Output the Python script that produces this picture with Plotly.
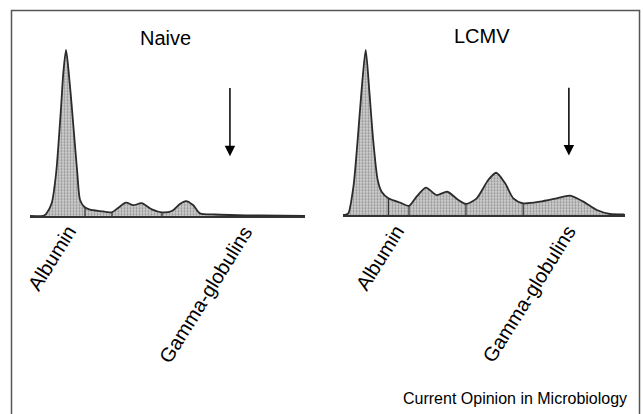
import plotly.graph_objects as go

# ---- Data (migration position 0-100 across each strip, relative density 0-100) ----
naive_x = [0, 5.1, 6.1, 7.9, 9.5, 11.3, 12.1, 13.1, 14.1, 15.2, 17.2, 18.2, 19.8, 21.8, 25.5,
           29.7, 32.0, 34.9, 37.6, 40.6, 44.3, 47.9, 51.6, 54.5, 56.7, 59.3, 61.8, 67.3, 72.7, 83.6, 100]
naive_y = [0, 0.3, 1.8, 7.8, 25.9, 65.7, 86.1, 100, 86.1, 65.7, 25.9, 9.6, 5.4, 3.9, 3.0,
           2.2, 4.8, 8.0, 6.5, 7.7, 4.0, 2.2, 3.0, 7.2, 9.0, 6.6, 1.6, 0.9, 0.6, 0.3, 0]

lcmv_x = [0, 1.1, 1.9, 3.7, 5.2, 6.6, 8.05, 9.3, 10.7, 12.3, 13.7, 16.1, 20.5, 23.4, 26.1,
          29.4, 33.2, 37.0, 40.9, 43.6, 47.4, 51.5, 54.3, 57.5, 60.4, 63.9, 69.9, 75.8, 80.5,
          85.2, 90.0, 94.7, 99.4, 100]
lcmv_y = [0, 0.3, 1.0, 17.2, 45.5, 75.8, 100, 75.8, 45.5, 21.2, 14.1, 10.1, 7.3, 5.5, 11.1,
          16.6, 12.1, 14.1, 9.1, 6.7, 10.1, 21.2, 25.6, 19.2, 10.1, 7.1, 8.1, 10.1, 11.7,
          8.1, 3.0, 0.6, 0.3, 0]

naive_div_x = [20.0, 29.8, 48.0]
naive_div_top = [5.2, 2.2, 2.2]
lcmv_div_x = [16.1, 23.4, 43.6, 63.9]
lcmv_div_top = [10.1, 5.5, 6.7, 7.1]

panel_titles = ["Naive", "LCMV"]
naive_labels = {"Albumin": 19.3, "Gamma-globulins": 83.5}
lcmv_labels = {"Albumin": 24.1, "Gamma-globulins": 85.0}
arrow_pos = {"x": 72.7, "x2": 80.1}
arrow_from, arrow_to = 78, 36
footer = "Current Opinion in Microbiology"

W, H = 643, 414
FONT = "Liberation Sans, Arial, Helvetica, sans-serif"

line_col = "#2b2b2b"
pattern = dict(shape=".", size=3, solidity=0.45, fgcolor="#5a5a5a", bgcolor="#d4d4d4")

fig = go.Figure()

def add_panel(xs, ys, dx, dtop, xa, ya):
    fig.add_trace(go.Scatter(x=xs, y=ys, mode="lines", line=dict(color=line_col, width=1.8, shape="spline", smoothing=0.7),
                             fill="tozeroy", fillcolor="#cfcfcf", fillpattern=pattern,
                             xaxis=xa, yaxis=ya, hoverinfo="skip", showlegend=False))
    vx, vy = [], []
    for x, t in zip(dx, dtop):
        vx += [x, x, None]
        vy += [0, t, None]
    fig.add_trace(go.Scatter(x=vx, y=vy, mode="lines", line=dict(color="#333", width=1.2),
                             xaxis=xa, yaxis=ya, hoverinfo="skip", showlegend=False))

add_panel(naive_x, naive_y, naive_div_x, naive_div_top, "x", "y")
add_panel(lcmv_x, lcmv_y, lcmv_div_x, lcmv_div_top, "x2", "y2")

def py(p):
    return 1 - p / H

ax_common = dict(range=[0, 100], showgrid=False, zeroline=False, showticklabels=False, ticks="",
                 showline=True, linecolor="#333", linewidth=2, fixedrange=True)
fig.update_layout(
    xaxis=dict(domain=[30 / W, 305 / W], anchor="y", **ax_common),
    xaxis2=dict(domain=[343 / W, 625 / W], anchor="y2", **ax_common),
    yaxis=dict(domain=[py(216), py(216 - 105 * 1.66)], range=[0, 105], visible=False, anchor="x", fixedrange=True),
    yaxis2=dict(domain=[py(215), py(215 - 105 * 1.65)], range=[0, 105], visible=False, anchor="x2", fixedrange=True),
)

ann = []
for title, xr, yy in zip(panel_titles, ["x", "x2"], [38, 36]):
    ann.append(dict(text=title, xref=xr, x=49.3, yref="paper", y=py(yy), xanchor="center", yanchor="middle",
                    showarrow=False, font=dict(family=FONT, size=20, color="black")))
for labels, xr in [(naive_labels, "x"), (lcmv_labels, "x2")]:
    for txt, xv in labels.items():
        ann.append(dict(text=txt, xref=xr, x=xv, yref="paper", y=py(219), xanchor="right", yanchor="top",
                        textangle=-58, showarrow=False, font=dict(family=FONT, size=20, color="black")))
for xr, xv in arrow_pos.items():
    yr = "y" if xr == "x" else "y2"
    ann.append(dict(text="", x=xv, y=arrow_to, xref=xr, yref=yr, ax=xv, ay=arrow_from, axref=xr, ayref=yr,
                    showarrow=True, arrowhead=2, arrowsize=1.4, arrowwidth=1.5, arrowcolor="black", standoff=0))
ann.append(dict(text=footer, xref="paper", x=629 / W, yref="paper", y=py(409), xanchor="right", yanchor="bottom",
                showarrow=False, font=dict(family=FONT, size=16, color="black")))

fig.update_layout(
    width=W, height=H, margin=dict(l=0, r=0, t=0, b=0),
    paper_bgcolor="white", plot_bgcolor="rgba(0,0,0,0)",
    annotations=ann,
    shapes=[dict(type="rect", xref="paper", yref="paper", x0=11.5 / W, x1=639.5 / W, y0=-0.05, y1=py(10.5),
                 line=dict(color="#555", width=1.5), fillcolor="rgba(0,0,0,0)", layer="above")],
)

fig.write_html("out.html", config={"displayModeBar": False, "staticPlot": True},
               post_script="document.body.style.margin='0';")
